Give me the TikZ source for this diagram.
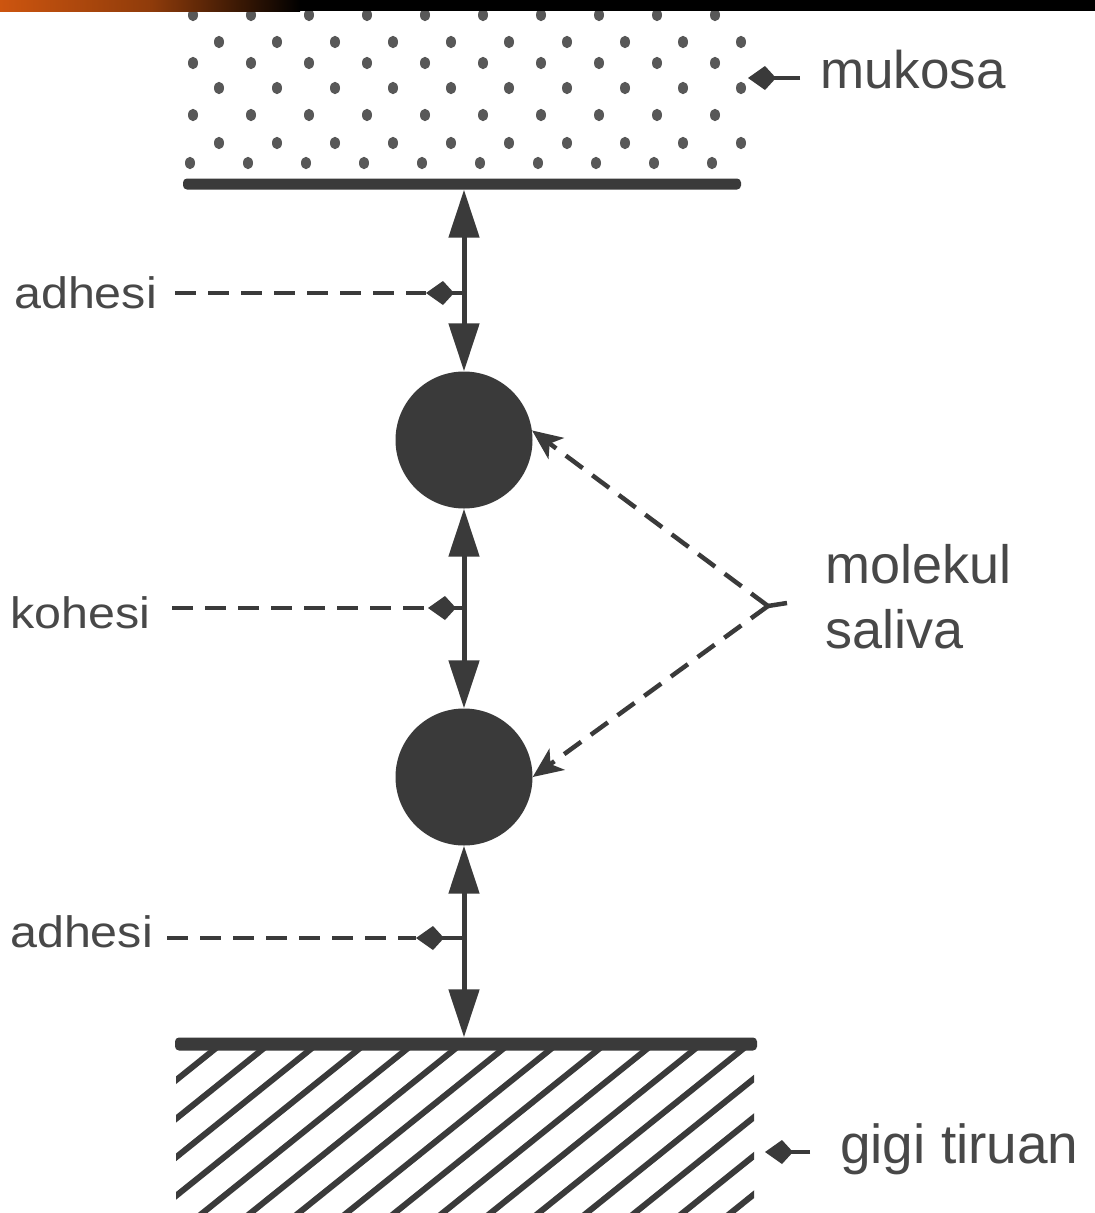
\documentclass[tikz,border=0pt]{standalone}
\usepackage{fontspec}
\setmainfont{Liberation Sans}
\newfontfamily\labfont[FakeStretch=1.1]{Liberation Sans}
\usetikzlibrary{arrows.meta,calc}
\definecolor{ink}{RGB}{58,58,58}
\definecolor{txt}{RGB}{72,72,72}
\definecolor{dotc}{RGB}{88,88,88}
\definecolor{flame}{RGB}{205,85,15}
\begin{document}
\begin{tikzpicture}[x=1pt,y=-1pt,
  lbl/.style={inner sep=0pt, text=txt, font=\labfont\fontsize{44}{50}\selectfont, anchor=base west},
  rlbl/.style={inner sep=0pt, text=txt, font=\fontsize{54}{60}\selectfont, anchor=base west},
  barbox/.style={draw=none, fill=ink, rounded corners=4pt, inner sep=0pt},
  molecule/.style={circle, fill=ink, draw=none, minimum size=137pt, inner sep=0pt},
  bond/.style={draw=ink, line width=5pt, {Triangle[length=48pt,width=30pt]}-{Triangle[length=48pt,width=30pt]}},
  dashline/.style={draw=ink, line width=4.5pt, dash pattern=on 21pt off 12pt},
  stub/.style={draw=ink, line width=4.5pt, -{Kite[length=28pt,width=24pt,inset=11pt]}},
  molptr/.style={dashline, -{Stealth[length=30pt,width=26pt,inset=8pt]}},
  hatchline/.style={draw=ink, line width=6pt, line cap=round}
]
\useasboundingbox (0,0) rectangle (1095,1213);
\fill[white] (0,0) rectangle (1095,1213);

% mucosa dots
\foreach \yy/\ss in {15/193,42/219,63/193,88/219,115/193,143/219,163/190}{
  \foreach \i in {0,...,9}{
    \fill[dotc] (\ss+58*\i,\yy) ellipse (5 and 6.2);
  }
}

% top band
\fill[black] (0,0) rectangle (1095,11);
\shade[left color=flame, right color=black, middle color=flame!70!black] (0,0) rectangle (300,11);

% bars
\node[barbox, minimum width=558pt, minimum height=11pt] (topbar) at (462,184) {};
\begin{scope}
  \clip (176,1046) rectangle (754,1213);
  \foreach \k in {-7,...,19}{
    \draw[hatchline] (211+48*\k+30,1050-22) -- (211+48*\k-290,1050+235);
  }
\end{scope}
\node[barbox, minimum width=582pt, minimum height=13pt] (denture) at (466,1044) {};

% molecules
\node[molecule] (m1) at (464,440) {};
\node[molecule] (m2) at (464,777) {};

% bonds
\draw[bond] (m1.north |- topbar.south) -- (m1.north);
\draw[bond] (m1.south) -- (m2.north);
\draw[bond] (m2.south) -- (m2.south |- denture.north);

% labels
\node[rlbl, font=\fontsize{53}{60}\selectfont] (lmuk) at (820,88) {mukosa};
\node[lbl] (lad1) at (14,308) {adhesi};
\node[lbl] (lkoh) at (10,628) {kohesi};
\node[lbl] (lad2) at (10,947) {adhesi};
\node[rlbl] (lmol) at (825,583) {molekul};
\node[rlbl] (lsal) at (825,648) {saliva};
\node[rlbl, font=\fontsize{55}{60}\selectfont] (lgig) at (840,1163) {gigi tiruan};

% pointers to bonds
\coordinate (j1) at (464,293); \coordinate (t1) at (426,293);
\coordinate (j2) at (464,608); \coordinate (t2) at (428,608);
\coordinate (j3) at (464,938); \coordinate (t3) at (416,938);
\draw[dashline, shorten <=18pt] (lad1.east |- t1) -- (t1);
\draw[stub] (j1) -- (t1);
\draw[dashline, shorten <=22pt] (lkoh.east |- t2) -- (t2);
\draw[stub] (j2) -- (t2);
\draw[dashline, shorten <=14pt] (lad2.east |- t3) -- (t3);
\draw[stub] (j3) -- (t3);

% molecule pointers
\coordinate (y0) at (768,606);
\coordinate (y1) at (787,603);
\draw[molptr] (y0) -- (m1.8);
\draw[molptr] (y0) -- (m2.east);
\draw[draw=ink, line width=4.5pt] (y0) -- (y1);

% side arrows
\coordinate (mukpt) at (748,78);
\draw[stub, shorten <=20pt] (lmuk.west |- mukpt) -- (mukpt);
\coordinate (gigpt) at (765,1152);
\draw[stub, shorten <=30pt] (lgig.west |- gigpt) -- (gigpt);
\end{tikzpicture}
\end{document}
